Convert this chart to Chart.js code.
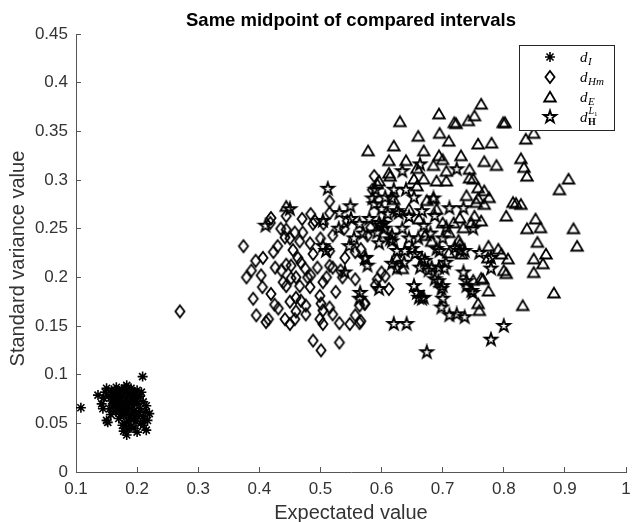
<!DOCTYPE html>
<html><head><meta charset="utf-8">
<script src="https://cdn.jsdelivr.net/npm/chart.js@4"></script>
<style>html,body{margin:0;padding:0;background:#fff;}</style>
</head><body>
<canvas id="c" width="633" height="522" style="display:block;width:633px;height:522px"></canvas>
<script>
const titleText = 'Same midpoint of compared intervals';
const xLabel = 'Expectated value';
const yLabel = 'Standard variance value';
const xTicks = [0.1,0.2,0.3,0.4,0.5,0.6,0.7,0.8,0.9,1];
const xTickLabels = ['0.1','0.2','0.3','0.4','0.5','0.6','0.7','0.8','0.9','1'];
const yTicks = [0,0.05,0.1,0.15,0.2,0.25,0.3,0.35,0.4,0.45];
const yTickLabels = ['0','0.05','0.1','0.15','0.2','0.25','0.3','0.35','0.4','0.45'];
const seriesNames = ['d_I','d_Hm','d_E','d_H^L1'];

// d_I (asterisk)
const dI = [[0.108,0.066],[0.209,0.098],[0.150,0.086],[0.136,0.079],[0.142,0.070],[0.144,0.065],[0.152,0.051],[0.150,0.053],
[0.183,0.038],[0.200,0.041],[0.215,0.043],[0.217,0.053],[0.220,0.060],[0.215,0.068],[0.183,0.089],[0.166,0.087],[0.200,0.084],
[0.160,0.080],[0.170,0.082],[0.175,0.085],[0.190,0.086],[0.195,0.080],[0.205,0.078],[0.210,0.072],[0.165,0.075],[0.175,0.078],
[0.185,0.080],[0.190,0.075],[0.200,0.070],[0.205,0.065],[0.170,0.070],[0.180,0.072],[0.160,0.068],[0.175,0.065],[0.185,0.066],
[0.195,0.063],[0.200,0.058],[0.210,0.057],[0.165,0.062],[0.178,0.058],[0.188,0.056],[0.198,0.052],[0.206,0.050],[0.170,0.055],
[0.180,0.050],[0.190,0.047],[0.185,0.044],[0.195,0.045],[0.210,0.048],[0.158,0.073],[0.153,0.078],[0.172,0.062],[0.183,0.060],
[0.193,0.068],[0.176,0.048],[0.200,0.076],[0.165,0.083],[0.155,0.065],[0.148,0.082],[0.214,0.062],
[0.162,0.077],[0.168,0.079],[0.178,0.083],[0.187,0.083],[0.193,0.078],[0.182,0.076],[0.172,0.074],[0.188,0.071],[0.197,0.073],
[0.177,0.069],[0.167,0.066],[0.181,0.064],[0.191,0.060],[0.174,0.060],[0.186,0.052],[0.194,0.055],[0.203,0.061],[0.163,0.071],
[0.179,0.086],[0.192,0.083],[0.207,0.082],[0.158,0.084],[0.145,0.076],[0.157,0.059],[0.212,0.053],[0.178,0.042]];

// d_Hm (diamond)
const dHm = [[0.270,0.165],
[0.374,0.232],[0.379,0.200],[0.394,0.217],[0.387,0.207],[0.406,0.220],[0.403,0.202],[0.423,0.226],[0.426,0.210],[0.419,0.183],
[0.395,0.161],[0.415,0.157],[0.411,0.154],[0.431,0.168],[0.442,0.157],[0.450,0.152],[0.458,0.157],[0.442,0.241],[0.444,0.249],
[0.450,0.240],[0.458,0.246],[0.471,0.246],[0.466,0.237],[0.444,0.263],[0.418,0.256],[0.484,0.265],[0.488,0.255],[0.483,0.235],
[0.463,0.220],[0.468,0.215],[0.475,0.209],[0.452,0.212],[0.436,0.207],[0.452,0.199],[0.444,0.191],[0.439,0.195],[0.466,0.191],
[0.460,0.179],[0.468,0.176],[0.476,0.171],[0.476,0.162],[0.484,0.202],[0.488,0.224],[0.504,0.195],[0.499,0.181],[0.501,0.173],
[0.504,0.166],[0.499,0.157],[0.504,0.152],[0.515,0.169],[0.520,0.162],[0.531,0.153],[0.548,0.152],[0.557,0.161],[0.564,0.153],
[0.515,0.212],[0.520,0.210],[0.533,0.207],[0.536,0.200],[0.557,0.198],[0.573,0.173],[0.564,0.171],[0.488,0.135],[0.501,0.125],
[0.531,0.133],[0.515,0.278],[0.515,0.266],[0.491,0.258],[0.539,0.250],[0.544,0.258],[0.520,0.243],[0.515,0.227],[0.479,0.200],
[0.483,0.190],[0.419,0.261],[0.444,0.213],[0.588,0.304],[0.577,0.243],[0.557,0.226],[0.593,0.198],[0.590,0.192],[0.582,0.251],
[0.566,0.229],[0.612,0.188],[0.606,0.201],[0.566,0.155],[0.572,0.173],[0.430,0.232],[0.405,0.190],[0.425,0.172],[0.455,0.228],
[0.470,0.260],[0.500,0.240],[0.460,0.165],[0.390,0.178],[0.435,0.250],[0.510,0.200],[0.525,0.185],[0.540,0.220],[0.495,0.210],
[0.505,0.255],[0.600,0.205],[0.585,0.290],[0.460,0.200],[0.450,0.175]];

// d_E (triangle)
const dE = [[0.630,0.360],[0.694,0.368],[0.763,0.378],[0.752,0.366],[0.742,0.361],[0.719,0.359],[0.722,0.358],[0.799,0.359],
[0.802,0.359],[0.695,0.348],[0.758,0.337],[0.780,0.338],[0.768,0.319],[0.788,0.315],[0.669,0.330],[0.612,0.320],[0.694,0.325],
[0.700,0.321],[0.685,0.315],[0.612,0.307],[0.614,0.304],[0.658,0.312],[0.706,0.309],[0.744,0.311],[0.744,0.302],[0.750,0.301],
[0.653,0.301],[0.669,0.301],[0.690,0.299],[0.706,0.299],[0.758,0.292],[0.768,0.289],[0.739,0.284],[0.758,0.281],[0.776,0.282],
[0.768,0.275],[0.674,0.279],[0.685,0.281],[0.658,0.294],[0.804,0.263],[0.728,0.261],[0.752,0.263],[0.718,0.256],[0.747,0.256],
[0.700,0.256],[0.849,0.348],[0.836,0.342],[0.828,0.322],[0.833,0.313],[0.838,0.304],[0.906,0.301],[0.891,0.290],[0.820,0.276],
[0.828,0.275],[0.852,0.260],[0.838,0.250],[0.860,0.251],[0.914,0.250],[0.920,0.232],[0.855,0.236],[0.869,0.224],[0.849,0.219],
[0.864,0.214],[0.849,0.205],[0.807,0.219],[0.800,0.207],[0.804,0.204],[0.882,0.184],[0.831,0.171],[0.775,0.232],[0.791,0.229],
[0.796,0.224],[0.728,0.234],[0.731,0.224],[0.710,0.225],[0.682,0.237],[0.625,0.219],[0.634,0.209],[0.763,0.199],[0.750,0.197],
[0.775,0.186],[0.758,0.173],[0.760,0.166],[0.596,0.299],[0.444,0.273],[0.661,0.260],[0.671,0.243],[0.710,0.246],[0.726,0.238],
[0.734,0.251],[0.763,0.258],[0.774,0.220],[0.766,0.198],[0.815,0.277],[0.755,0.277],[0.593,0.296],[0.578,0.330],[0.620,0.335],
[0.640,0.320],[0.710,0.340],[0.730,0.325],[0.620,0.280],[0.645,0.270],[0.690,0.270],[0.660,0.345]];

// d_H^L1 (pentagram)
const dHL1 = [[0.674,0.123],[0.620,0.152],[0.641,0.152],[0.779,0.136],[0.800,0.150],[0.711,0.161],[0.723,0.162],[0.736,0.159],
[0.698,0.169],[0.700,0.178],[0.698,0.188],[0.661,0.179],[0.666,0.178],[0.653,0.191],[0.687,0.198],[0.693,0.196],[0.700,0.191],
[0.734,0.205],[0.739,0.191],[0.747,0.186],[0.739,0.196],[0.779,0.209],[0.779,0.220],[0.736,0.227],[0.694,0.210],[0.682,0.210],
[0.663,0.210],[0.666,0.219],[0.638,0.227],[0.650,0.229],[0.655,0.224],[0.625,0.209],[0.617,0.214],[0.614,0.239],[0.645,0.240],
[0.690,0.229],[0.711,0.271],[0.628,0.266],[0.598,0.253],[0.593,0.246],[0.574,0.220],[0.596,0.188],[0.658,0.184],[0.669,0.179],
[0.749,0.184],[0.703,0.209],[0.695,0.227],[0.728,0.227],[0.617,0.237],[0.625,0.227],[0.637,0.215],[0.671,0.217],[0.677,0.207],
[0.634,0.309],[0.663,0.316],[0.723,0.311],[0.653,0.282],[0.685,0.281],[0.625,0.268],[0.617,0.281],[0.606,0.282],[0.666,0.268],
[0.734,0.271],[0.669,0.253],[0.687,0.263],[0.634,0.250],[0.617,0.243],[0.706,0.251],[0.604,0.255],[0.512,0.291],[0.549,0.273],
[0.531,0.266],[0.504,0.258],[0.564,0.255],[0.410,0.253],[0.547,0.232],[0.504,0.232],[0.509,0.227],[0.573,0.219],[0.577,0.212],
[0.565,0.184],[0.564,0.178],[0.585,0.281],[0.588,0.275],[0.596,0.256],[0.596,0.235],[0.450,0.270],[0.590,0.290],[0.600,0.270],
[0.610,0.265],[0.580,0.260],[0.620,0.290],[0.640,0.290],[0.605,0.250],[0.570,0.245],[0.555,0.240],[0.530,0.250],[0.550,0.260],
[0.540,0.205],[0.720,0.230],[0.760,0.225],[0.750,0.250],[0.700,0.240],[0.680,0.245],[0.660,0.240],[0.645,0.262],[0.705,0.215]];

// marker images (unfilled outlines)
function makeMarker(draw){
  const c = document.createElement('canvas'); c.width = 18; c.height = 18;
  const g = c.getContext('2d'); g.translate(9,9);
  g.strokeStyle = '#000'; g.lineWidth = 1.8; g.lineJoin = 'miter';
  g.beginPath(); draw(g); g.closePath(); g.stroke();
  return c;
}
const diamondImg = makeMarker(g => { g.moveTo(0,-6); g.lineTo(4.6,0); g.lineTo(0,6); g.lineTo(-4.6,0); });
const triangleImg = makeMarker(g => { g.moveTo(0,-5.3); g.lineTo(5.8,4.5); g.lineTo(-5.8,4.5); });
const pentagramImg = makeMarker(g => {
  for (let k = 0; k < 10; k++) {
    const r = k % 2 ? 2.5 : 6.5, a = -Math.PI/2 + k*Math.PI/5;
    const px = r*Math.cos(a), py = r*Math.sin(a);
    if (k) g.lineTo(px,py); else g.moveTo(px,py);
  }
});

const toXY = arr => arr.map(p => ({x: p[0], y: p[1]}));

const legendPlugin = {
  id: 'matLegend',
  afterDatasetsDraw(chart) {
    const ctx = chart.ctx, a = chart.chartArea;
    const bx = Math.round(a.right - 107), by = Math.round(a.top + 11), bw = 95, bh = 85;
    ctx.save();
    ctx.fillStyle = '#fff'; ctx.fillRect(bx, by, bw, bh);
    ctx.strokeStyle = '#262626'; ctx.lineWidth = 1; ctx.strokeRect(bx + 0.5, by + 0.5, bw, bh);
    const mx = bx + 31, tx = bx + 61;
    const rows = [by + 12, by + 32, by + 52, by + 72];
    // asterisk
    ctx.strokeStyle = '#000'; ctx.lineWidth = 1.6;
    ctx.beginPath();
    for (let k = 0; k < 4; k++) {
      const ang = k * Math.PI / 4, dx = 5*Math.cos(ang), dy = 5*Math.sin(ang);
      ctx.moveTo(mx - dx, rows[0] - dy); ctx.lineTo(mx + dx, rows[0] + dy);
    }
    ctx.stroke();
    ctx.drawImage(diamondImg, mx - 9, rows[1] - 9);
    ctx.drawImage(triangleImg, mx - 9, rows[2] - 9);
    ctx.drawImage(pentagramImg, mx - 9, rows[3] - 9);
    ctx.fillStyle = '#000'; ctx.textBaseline = 'alphabetic'; ctx.textAlign = 'left';
    const dFont = 'italic 15px "Liberation Serif"', sFont = 'italic 11px "Liberation Serif"';
    const subs = ['I', 'Hm', 'E'];
    for (let i = 0; i < 3; i++) {
      ctx.font = dFont; ctx.fillText('d', tx, rows[i] + 4.5);
      const w = ctx.measureText('d').width;
      ctx.font = sFont; ctx.fillText(subs[i], tx + w + 0.5, rows[i] + 7.5);
    }
    ctx.font = dFont; ctx.fillText('d', tx, rows[3] + 4.5);
    const w = ctx.measureText('d').width;
    ctx.font = 'italic 10px "Liberation Serif"'; ctx.fillText('L', tx + w + 1, rows[3] - 3.5);
    const wl = ctx.measureText('L').width;
    ctx.font = '7px "Liberation Serif"'; ctx.fillText('1', tx + w + 1 + wl, rows[3] - 1.5);
    ctx.font = 'bold 10px "Liberation Serif"'; ctx.fillText('H', tx + w + 0.5, rows[3] + 7.5);
    ctx.restore();
  }
};

const axisColor = '#555';
const tickColor = '#333';
new Chart(document.getElementById('c'), {
  type: 'scatter',
  data: {
    datasets: [
      {label: seriesNames[0], data: toXY(dI), pointStyle: 'star', pointRadius: 5, borderColor: '#000', backgroundColor: '#000', pointBorderWidth: 1.6, order: 3},
      {label: seriesNames[1], data: toXY(dHm), pointStyle: diamondImg, pointRadius: 6, order: 2},
      {label: seriesNames[2], data: toXY(dE), pointStyle: triangleImg, pointRadius: 6, order: 1},
      {label: seriesNames[3], data: toXY(dHL1), pointStyle: pentagramImg, pointRadius: 6, order: 0}
    ]
  },
  options: {
    responsive: false,
    animation: false,
    devicePixelRatio: 1,
    events: [],
    layout: {padding: {left: 0, right: 2, top: 0, bottom: 0}},
    plugins: {
      legend: {display: false},
      tooltip: {enabled: false},
      title: {display: true, text: titleText, fullSize: false, color: '#000',
        font: {family: '"Liberation Sans", Arial, sans-serif', size: 18.5, weight: 'bold'},
        padding: {top: 10, bottom: 1.8}}
    },
    scales: {
      x: {
        type: 'linear', position: 'bottom', min: 0.1, max: 1,
        afterBuildTicks: s => { s.ticks = xTicks.map(v => ({value: v})); },
        afterFit: s => { s.height = 50; s.paddingLeft = 0; s.paddingRight = 0; },
        border: {display: true, color: axisColor, width: 1},
        grid: {display: true, drawOnChartArea: false, drawTicks: true, tickLength: -5, color: axisColor, lineWidth: 1},
        ticks: {autoSkip: false, maxRotation: 0, padding: 12, color: tickColor,
          font: {family: '"Liberation Sans", Arial, sans-serif', size: 17},
          callback: (v, i) => xTickLabels[i]},
        title: {display: true, text: xLabel, color: tickColor,
          font: {family: '"Liberation Sans", Arial, sans-serif', size: 20},
          padding: {top: 0, bottom: -3}}
      },
      y: {
        type: 'linear', position: 'left', min: 0, max: 0.45,
        afterBuildTicks: s => { s.ticks = yTicks.map(v => ({value: v})); },
        afterFit: s => { s.width = 76; s.paddingTop = 0; s.paddingBottom = 0; },
        border: {display: true, color: axisColor, width: 1},
        grid: {display: true, drawOnChartArea: false, drawTicks: true, tickLength: -5, color: axisColor, lineWidth: 1},
        ticks: {autoSkip: false, padding: 13, color: tickColor,
          font: {family: '"Liberation Sans", Arial, sans-serif', size: 17},
          callback: (v, i) => yTickLabels[i]},
        title: {display: true, text: yLabel + '  ', color: tickColor,
          font: {family: '"Liberation Sans", Arial, sans-serif', size: 20},
          padding: {top: 6.5, bottom: 0}}
      }
    }
  },
  plugins: [legendPlugin]
});
</script>
</body></html>
